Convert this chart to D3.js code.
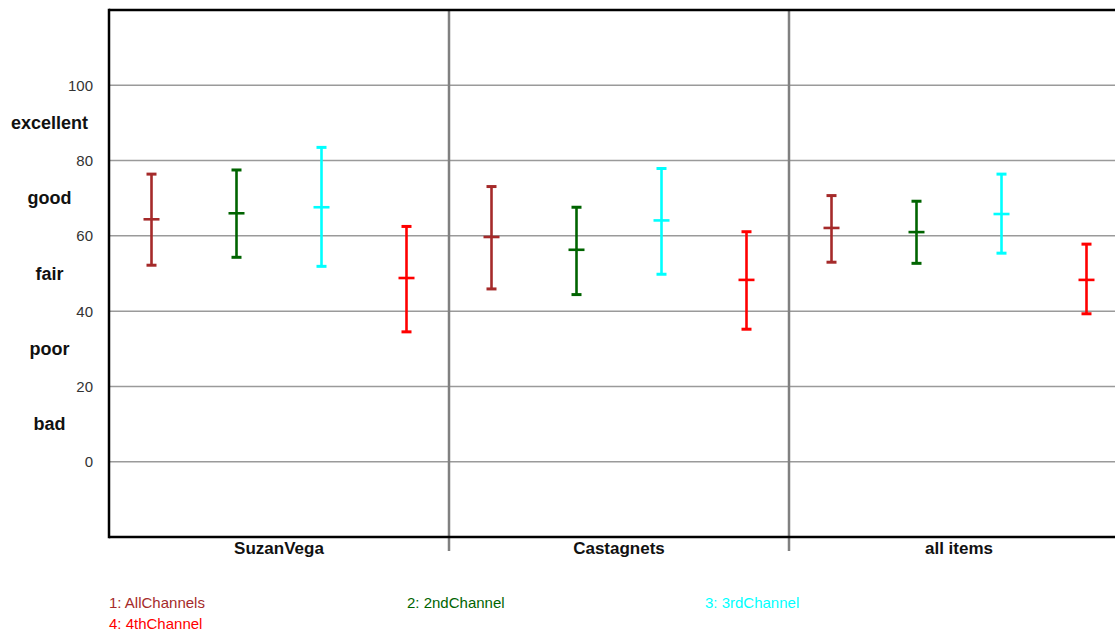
<!DOCTYPE html>
<html>
<head>
<meta charset="utf-8">
<script src="https://cdn.jsdelivr.net/npm/d3@7"></script>
<style>
  html, body { margin: 0; padding: 0; background: #fff; }
  svg { display: block; font-family: "Liberation Sans", Arial, sans-serif; }
</style>
</head>
<body>
<svg id="chart" width="1115" height="633"></svg>
<script>
// ---- data ----
const groups = ["SuzanVega", "Castagnets", "all items"];
const series = ["AllChannels", "2ndChannel", "3rdChannel", "4thChannel"];
const seriesColors = ["#a52a2a", "#006400", "#00ffff", "#ff0000"];
// mean values per series (in group order)
const meanValues = [
  [64.4, 59.7, 62.1],
  [66.0, 56.3, 61.0],
  [67.6, 64.1, 65.8],
  [48.8, 48.3, 48.3]
];
const upperValues = [
  [76.4, 73.1, 70.7],
  [77.5, 67.6, 69.2],
  [83.5, 77.9, 76.4],
  [62.5, 61.1, 57.8]
];
const lowerValues = [
  [52.2, 45.9, 53.0],
  [54.3, 44.4, 52.7],
  [51.9, 49.8, 55.4],
  [34.5, 35.2, 39.3]
];
const yTicks = [0, 20, 40, 60, 80, 100];
const qualityLabels = ["bad", "poor", "fair", "good", "excellent"];
const qualityValues = [10, 30, 50, 70, 90];

// ---- layout ----
const svg = d3.select("#chart");
const plotLeft = 109, plotTop = 10, plotBottom = 537, groupWidth = 340;

const y = d3.scaleLinear().domain([-20, 120]).range([plotBottom, plotTop]);
const x = d3.scaleBand().domain(groups).range([plotLeft, plotLeft + groupWidth * groups.length]).padding(0);
const xs = d3.scaleBand().domain(series).range([0, x.bandwidth()]).padding(0);
const plotRight = plotLeft + groupWidth * groups.length;

// gridlines
svg.append("g").selectAll("line").data(yTicks).join("line")
  .attr("x1", plotLeft).attr("x2", plotRight)
  .attr("y1", d => y(d)).attr("y2", d => y(d))
  .attr("stroke", "#9a9a9a").attr("stroke-width", 1.5);

// numeric axis labels
svg.append("g").selectAll("text").data(yTicks).join("text")
  .attr("x", 93).attr("y", d => y(d) + 5.5)
  .attr("text-anchor", "end")
  .attr("font-size", 15).attr("fill", "#333")
  .text(d => d);

// quality labels
svg.append("g").selectAll("text").data(qualityLabels).join("text")
  .attr("x", 49.5).attr("y", (d, i) => y(qualityValues[i]) + 6)
  .attr("text-anchor", "middle")
  .attr("font-size", 18).attr("font-weight", "bold").attr("fill", "#111")
  .text(d => d);

// group separators
svg.append("g").selectAll("line").data(groups.slice(1)).join("line")
  .attr("x1", d => x(d)).attr("x2", d => x(d))
  .attr("y1", plotTop).attr("y2", 551)
  .attr("stroke", "#808080").attr("stroke-width", 2.5);

// frame: top, left, bottom
svg.append("line").attr("x1", plotLeft).attr("x2", plotRight).attr("y1", plotTop).attr("y2", plotTop)
  .attr("stroke", "#000").attr("stroke-width", 2.5);
svg.append("line").attr("x1", plotLeft).attr("x2", plotRight).attr("y1", plotBottom).attr("y2", plotBottom)
  .attr("stroke", "#000").attr("stroke-width", 2.5);
svg.append("line").attr("x1", plotLeft).attr("x2", plotLeft).attr("y1", plotTop - 1.2).attr("y2", plotBottom + 1.2)
  .attr("stroke", "#000").attr("stroke-width", 2.5);

// group labels
svg.append("g").selectAll("text").data(groups).join("text")
  .attr("x", d => x(d) + x.bandwidth() / 2).attr("y", 554)
  .attr("text-anchor", "middle")
  .attr("font-size", 17).attr("font-weight", "bold").attr("fill", "#111")
  .text(d => d);

// error bars
const capW = 10, meanW = 16;
series.forEach((s, si) => {
  const g = svg.append("g").attr("stroke", seriesColors[si]).attr("stroke-width", 2.6);
  groups.forEach((grp, gi) => {
    const cx = x(grp) + xs(s) + xs.bandwidth() / 2;
    const yu = y(upperValues[si][gi]), yl = y(lowerValues[si][gi]), ym = y(meanValues[si][gi]);
    g.append("line").attr("x1", cx).attr("x2", cx).attr("y1", yu).attr("y2", yl);
    g.append("line").attr("x1", cx - capW / 2).attr("x2", cx + capW / 2).attr("y1", yu).attr("y2", yu).attr("stroke-width", 3);
    g.append("line").attr("x1", cx - capW / 2).attr("x2", cx + capW / 2).attr("y1", yl).attr("y2", yl).attr("stroke-width", 3);
    g.append("line").attr("x1", cx - meanW / 2).attr("x2", cx + meanW / 2).attr("y1", ym).attr("y2", ym).attr("stroke-width", 2.6);
  });
});

// legend
const legendX = [109, 407, 705, 109];
const legendY = [608, 608, 608, 629];
svg.append("g").selectAll("text").data(series).join("text")
  .attr("x", (d, i) => legendX[i]).attr("y", (d, i) => legendY[i])
  .attr("font-size", 15).attr("fill", (d, i) => seriesColors[i])
  .text((d, i) => (i + 1) + ": " + d);
</script>
</body>
</html>
